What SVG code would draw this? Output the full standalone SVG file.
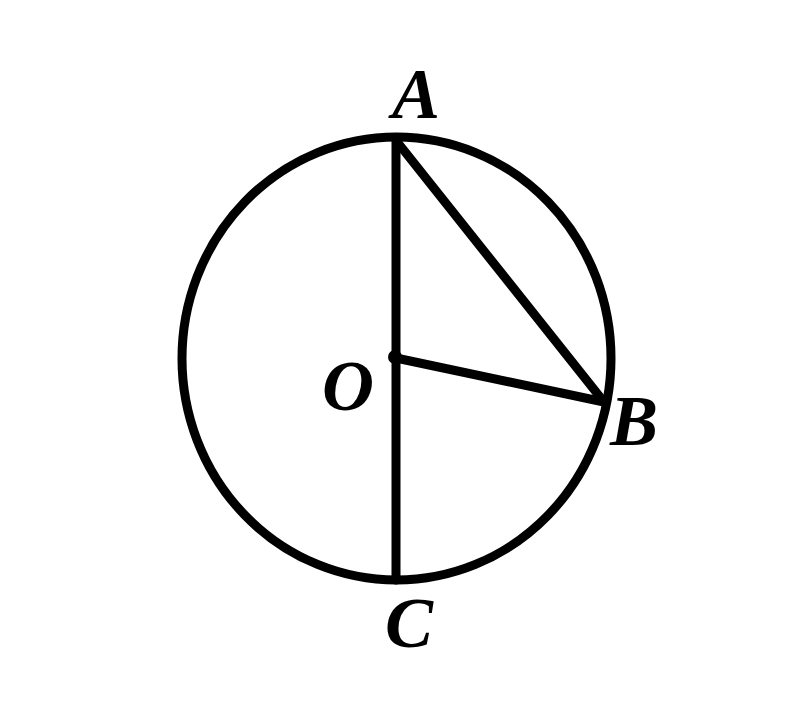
<svg xmlns="http://www.w3.org/2000/svg" width="800" height="706" viewBox="0 0 800 706">
<style>
.s{fill:none;stroke:#000;stroke-width:9;stroke-linecap:round;stroke-linejoin:round}
.l{font-family:"Liberation Serif",serif;font-style:italic;font-weight:bold;font-size:72px;fill:#000}
</style>
<rect width="800" height="706" fill="#fff"/>
<g id="circle"><ellipse class="s" cx="396.5" cy="358.5" rx="214.5" ry="221.5"/></g>
<g id="connectors">
<line class="s" x1="396" y1="140" x2="396" y2="580"/>
<line class="s" x1="398" y1="143" x2="604" y2="402"/>
<line class="s" x1="396" y1="358" x2="604" y2="402"/>
</g>
<g id="O"><circle cx="395" cy="357" r="7" fill="#000"/><text class="l" x="322" y="410">O</text></g>
<g id="A"><text class="l" x="392" y="118">A</text></g>
<g id="B"><text class="l" x="610" y="445">B</text></g>
<g id="C"><text class="l" x="385" y="647">C</text></g>
</svg>
